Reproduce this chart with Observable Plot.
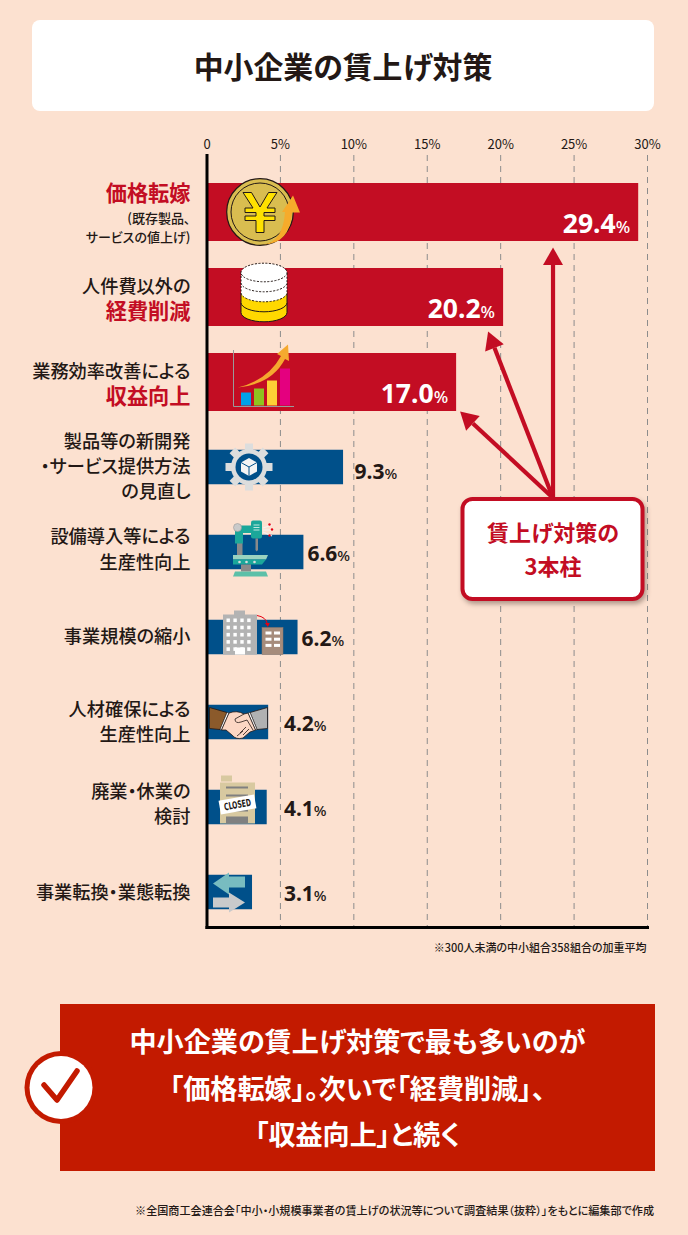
<!DOCTYPE html>
<html lang="ja">
<head>
<meta charset="utf-8">
<script src="https://cdn.jsdelivr.net/npm/d3@7"></script>
<script src="https://cdn.jsdelivr.net/npm/@observablehq/plot@0.6"></script>
<style>
  html,body{margin:0;padding:0;background:#fce1d0;}
  #page{position:relative;width:688px;height:1235px;overflow:hidden;background:#fce1d0;font-family:"Noto Sans CJK JP",sans-serif;color:#231815;font-feature-settings:"palt";}
  #page > div,#page > svg{position:absolute;}
  #title{left:32px;top:20px;width:622px;height:91px;background:#fff;border-radius:8px;text-align:center;line-height:91px;font-size:29.9px;font-weight:700;}
  #band{left:60px;top:1004px;width:595px;height:167px;background:#c31a00;color:#fff;text-align:center;font-size:27.1px;font-weight:700;}
  #band p{position:absolute;left:0;width:100%;margin:0;line-height:40px;}
  #check{left:22px;top:1050px;}
  #source{right:34px;top:1202px;font-size:11.1px;font-weight:500;white-space:nowrap;line-height:16px;}
</style>
</head>
<body>
<div id="page">
  <div id="title">中小企業の賃上げ対策</div>
  <div id="band">
    <p style="top:17px">中小企業の賃上げ対策で最も多いのが</p>
    <p style="top:64px">「価格転嫁」。次いで「経費削減」、</p>
    <p style="top:110px">「収益向上」と続く</p>
  </div>
  <svg id="check" width="76" height="76" viewBox="0 0 76 76">
    <circle cx="39" cy="37.5" r="36.5" fill="#c31a00"/>
    <circle cx="39" cy="37.5" r="31.5" fill="#fff"/>
    <path d="M22 35 L35 50 L55 21" fill="none" stroke="#c31a00" stroke-width="5.5" stroke-linecap="round" stroke-linejoin="round"/>
  </svg>
  <div id="source">※全国商工会連合会「中小・小規模事業者の賃上げの状況等について調査結果（抜粋）」をもとに編集部で作成</div>
</div>
<script>
// ---- chart data ----
const categories = [
  "価格転嫁\n(既存製品、\nサービスの値上げ)",
  "人件費以外の\n経費削減",
  "業務効率改善による\n収益向上",
  "製品等の新開発\n・サービス提供方法\nの見直し",
  "設備導入等による\n生産性向上",
  "事業規模の縮小",
  "人材確保による\n生産性向上",
  "廃業・休業の\n検討",
  "事業転換・業態転換"
];
const values = [29.4, 20.2, 17.0, 9.3, 6.6, 6.2, 4.2, 4.1, 3.1];
const pillarCount = 3;
const xTicks = [0, 5, 10, 15, 20, 25, 30];
const gridTicks = [5, 10, 15, 20, 25, 30];
const accentLines = ["価格転嫁", "経費削減", "収益向上"];
const smallLines = ["(既存製品、", "サービスの値上げ)"];
const calloutLines = ["賃上げ対策の", "3本柱"];
const footnote = "※300人未満の中小組合358組合の加重平均";

// ---- layout / style ----
const FONT = '"Noto Sans CJK JP",sans-serif';
const NUM = '"Noto Sans",sans-serif';
const RED = "#c30d23", BLUE = "#00508a", INK = "#231815";
const lineCenters = [[-18.5,6.5,25.5],[-10.8,15.2],[-10.8,15.2],[-25.8,-0.5,24.8],[-15.5,10.2],[-0.8],[-12.8,12.2],[-15,10],[0.5]];

const rows = categories.map((c, i) => ({cat: c, value: values[i], label: values[i].toFixed(1) + "%"}));
const pillars = rows.slice(0, pillarCount), others = rows.slice(pillarCount);

const labelMarks = categories.flatMap((c, i) => c.split("\n").map((line, k) => {
  const accent = accentLines.includes(line), small = smallLines.includes(line);
  return Plot.text([{cat: c, line}], {
    x: () => 0, y: "cat", text: "line", textAnchor: "end", dx: -16.5, dy: lineCenters[i][k],
    fontSize: accent ? 21.2 : small ? 13 : 18.2,
    fontWeight: accent ? 700 : 500,
    fill: accent ? RED : INK
  });
}));

function percentSmall(size) {
  return (index, scales, vals, dims, ctx, next) => {
    const g = next(index, scales, vals, dims, ctx);
    d3.select(g).selectAll("text").each(function () {
      const t = this.textContent.replace("%", "");
      d3.select(this).text(t).append("tspan").attr("font-size", size).attr("font-weight", 500).text("%");
    });
    return g;
  };
}

const valueText = (data, o) => Plot.text(data, {y: "cat", text: "label", fontFamily: NUM, fontWeight: 700, lineAnchor: "middle", ...o});

// ---- decorative icons, x in page px, y relative to the bar centre ----
const gearTeeth = d3.range(8).map(i => `<rect x="-4" y="-23.5" width="8" height="9" fill="#dcdddd" transform="translate(249,0) rotate(${i * 45})"/>`).join("");
function stackLayers() {
  let s = "";
  for (let k = 3; k >= 0; k--) {
    const y = -24.5 + k * 10, gold = k >= 2;
    s += `<path d="M241 ${y} V${y + 10} A23 9.3 0 0 0 287 ${y + 10} V${y} Z" fill="${gold ? "#ffd800" : "#fff"}" stroke="${INK}" stroke-width="1" ${gold ? "" : 'stroke-dasharray="2 1.5"'}/>`;
  }
  return s + `<ellipse cx="264" cy="-24.5" rx="23" ry="9.3" fill="#fff" stroke="${INK}" stroke-width="1" stroke-dasharray="2 1.5"/>`;
}
function grid(x0, y0, nx, ny, w, h, gx, gy, f) {
  let s = "";
  for (let j = 0; j < ny; j++) for (let i = 0; i < nx; i++)
    s += `<rect x="${x0 + i * (w + gx)}" y="${y0 + j * (h + gy)}" width="${w}" height="${h}" fill="${f}"/>`;
  return s;
}
const icons = [
  `<circle cx="260" cy="0" r="33.3" fill="#d9bd50" stroke="${INK}" stroke-width="1.2"/>
   <circle cx="260" cy="0" r="29" fill="none" stroke="${INK}" stroke-width="1"/>
   <path transform="translate(260,0)" d="M-17 -19.5H-8.5L0 -5 8.5 -19.5H17L7 -4H15V.5H4V4H15V8.5H4V20.5H-4V8.5H-15V4H-4V.5H-15V-4H-7Z" fill="#ffe100" stroke="${INK}" stroke-width="1"/>
   <path d="M263 32.5Q283 30 285 0L282 0 293 -16.5 300 .5 292 .5Q290 32 263 32.5Z" fill="#f6ab2b"/>`,
  stackLayers(),
  `<path d="M233.5 -32V24.5H294" fill="none" stroke="#9a9a9a" stroke-width="1"/>
   <rect x="241" y="10.5" width="10" height="13" fill="#00a0e9"/>
   <rect x="254" y="6.5" width="10" height="17" fill="#8fc31f"/>
   <rect x="267" y="-1.5" width="10" height="25" fill="#fdd035"/>
   <rect x="280" y="-13.5" width="10" height="37" fill="#e4007f"/>
   <path d="M238 5.5Q268 -2 281 -26L277 -28 288 -37.5 289 -21 285 -23Q272 2 238 5.5Z" fill="#f5a92f"/>`,
  `${gearTeeth}<circle cx="249" cy="0" r="18" fill="#dcdddd"/><circle cx="249" cy="0" r="13.5" fill="${BLUE}"/>
   <path d="M249 -9L257 -4.5V4.5L249 9 241 4.5V-4.5Z" fill="#f4f4f4"/>
   <path d="M241 -4.5L249 0 257 -4.5M249 0V9" fill="none" stroke="${BLUE}" stroke-width="1"/>`,
  `<path d="M263 -24L272 -27M263 -22H272M263 -20L272 -16" stroke="#f3f3f3" stroke-width="1.2"/>
   <circle cx="269.5" cy="-27.5" r="1.2" fill="#e60012"/><circle cx="272" cy="-22.5" r="1.2" fill="#e60012"/><circle cx="269.5" cy="-16.5" r="1.2" fill="#e60012"/>
   <rect x="237" y="-9" width="5.5" height="16" fill="#8a8a8a"/>
   <path d="M235 -26.5H252V-19H243V-8.5H235Z" fill="#1ba79a"/>
   <circle cx="237.5" cy="-24.5" r="4" fill="#c9caca" stroke="#999" stroke-width=".6"/>
   <rect x="251" y="-31.5" width="11" height="18" rx="2" fill="#1ba79a"/>
   <path d="M253.5 -27H259.5M253.5 -24.5H259.5M253.5 -22H259.5" stroke="#bfe8df" stroke-width="1"/>
   <path d="M255.5 -13.5H258V-2L256.7 -.5 255.5 -2Z" fill="#8a8a8a"/>
   <path d="M233 3H268L266 7.5H233Z" fill="#9ad2c0"/>
   <path d="M233 7.5H266L262 12.5H233Z" fill="#1ba79a"/>
   <circle cx="239.5" cy="10" r="1.3" fill="#dcdddd"/><circle cx="246.5" cy="10" r="1.3" fill="#dcdddd"/><circle cx="254.5" cy="10" r="1.3" fill="#dcdddd"/>
   <rect x="241" y="12.5" width="10" height="7" fill="#8a8a8a"/>
   <path d="M235 19.5H266L268 24.5H233Z" fill="#5cc0a8"/>`,
  `<rect x="234" y="-26.5" width="11" height="5" fill="#b3b3b3"/>
   <rect x="223" y="-22.5" width="34" height="40" fill="#b3b3b3"/>
   ${grid(226.5, -18.5, 4, 5, 3.4, 3.6, 3.5, 3.6, "#fff")}
   <rect x="235" y="10.5" width="10" height="7" fill="#fff"/>
   <rect x="262" y="-9.5" width="21" height="27" fill="#a68c7c" stroke="#8f7768" stroke-width=".5"/>
   ${grid(265.5, -5.5, 2, 3, 6, 3, 2.5, 3.2, "#fff")}
   <path d="M257 -21.5Q266 -20 267.5 -13" fill="none" stroke="#e60012" stroke-width="1"/>
   <path d="M265 -14L267.8 -10 269.8 -14Z" fill="#e60012"/>`,
  `<path d="M209.5 -14.5L227 -9.5 220 7.5 209.5 6.5Z" fill="#8b5a2b" stroke="${INK}" stroke-width=".8"/>
   <path d="M267.5 -14.5L250 -9.5 257 7.5 267.5 6.5Z" fill="#b0b1b2" stroke="${INK}" stroke-width=".8"/>
   <path d="M227 -9.5L229 -9 221.5 8 220 7.5ZM250 -9.5L248 -9 255.5 8 257 7.5Z" fill="#fff" stroke="${INK}" stroke-width=".5"/>
   <path d="M229 -9Q237 -12 244 -8L248 -9 255.5 8 250 10 243 16Q236 18 232 13L226 8 221.5 8Z" fill="#fcd7c4" stroke="${INK}" stroke-width=".8"/>
   <path d="M244 -8L235 -3Q235 2 241 0L247 -2 253 8M246 5L240 11M243 9L237 14M249 7L243 13" fill="none" stroke="${INK}" stroke-width=".8"/>`,
  `<rect x="221" y="-31.5" width="11" height="6" fill="#d8c9a0"/>
   <rect x="220" y="-24.5" width="35" height="41" fill="#d8c9a0"/>
   <path d="M226 -19.5H248M226 -11.5H248M226 3.5H248" stroke="#808080" stroke-width="2.2"/>
   <rect x="226" y="9.5" width="22" height="7" fill="#808080"/>
   <g transform="translate(237.5,-2.5) rotate(-10)"><rect x="-18" y="-7" width="36" height="14" fill="#fff"/>
   <text text-anchor="middle" y="3.6" font-size="10" font-weight="700" textLength="27" lengthAdjust="spacingAndGlyphs" font-family="'Liberation Sans Narrow','DejaVu Sans',sans-serif" fill="${INK}">CLOSED</text></g>`,
  `<path d="M213 -8.5L229 -19.5V-15.5H245V-4.5H229V2.5Z" fill="#78bcc0"/>
   <path d="M213 5.5H229V.5L245 10.5 229 20.5V15.5H213Z" fill="#c9cacb"/>`
];

function decorations(index, scales) {
  const g = document.createElementNS("http://www.w3.org/2000/svg", "g");
  const zero = scales.x(0) - 206.5, bw = scales.y.bandwidth() / 2;
  g.innerHTML = categories.map((c, i) => `<g transform="translate(${zero},${scales.y(c) + bw})">${icons[i]}</g>`).join("");
  return g;
}

function callout(index, scales) {
  const g = document.createElementNS("http://www.w3.org/2000/svg", "g");
  const bw = scales.y.bandwidth();
  const bottom = i => scales.y(categories[i]) + bw;
  const ox = scales.x(23.6), oy = 378;
  const tips = [
    [scales.x(23.6), bottom(0) + 6.5],
    [scales.x(values[1]) - 15, bottom(1) + 5.5],
    [scales.x(values[2]) + 4, bottom(2) + 0.5]
  ];
  const arrows = tips.map(([tx, ty]) => {
    const a = Math.atan2(ty - oy, tx - ox), h = 17.5, w = 10;
    const bx = tx - h * Math.cos(a), by = ty - h * Math.sin(a), nx = -Math.sin(a) * w, ny = Math.cos(a) * w;
    return `<line x1="${ox}" y1="${oy}" x2="${bx}" y2="${by}" stroke="${RED}" stroke-width="4.2"/>
      <polygon points="${tx},${ty} ${bx + nx},${by + ny} ${bx - nx},${by - ny}" fill="${RED}"/>`;
  }).join("");
  g.innerHTML = arrows + `
    <rect x="462.5" y="379" width="180" height="100" rx="10" fill="#fff" stroke="${RED}" stroke-width="4" style="filter:drop-shadow(2px 3px 2.5px rgba(80,60,50,.45))"/>
    <text x="553" y="415" text-anchor="middle" dominant-baseline="middle" font-size="22" font-weight="700" fill="${RED}">${calloutLines[0]}</text>
    <text x="553" y="449" text-anchor="middle" dominant-baseline="middle" font-size="22" font-weight="700" fill="${RED}">${calloutLines[1]}</text>`;
  return g;
}

const chart = Plot.plot({
  width: 688, height: 850,
  marginLeft: 206.5, marginRight: 41, marginTop: 35, marginBottom: 43,
  style: {background: "transparent", fontFamily: FONT, overflow: "visible", color: INK},
  x: {domain: [0, 30], label: null},
  y: {domain: categories, range: [50, 815], paddingInner: 0.312, paddingOuter: 0.156, axis: null},
  marks: [
    Plot.ruleX(gridTicks, {stroke: "#8c8c8c", strokeDasharray: "6,5", strokeWidth: 1}),
    Plot.barX(pillars, {x: "value", y: "cat", fill: RED}),
    Plot.barX(others, {x: "value", y: "cat", fill: BLUE, insetTop: 11.75, insetBottom: 11.75}),
    decorations,
    Plot.frame({anchor: "left", stroke: "#000", strokeWidth: 3}),
    Plot.frame({anchor: "bottom", stroke: "#000", strokeWidth: 3}),
    Plot.axisX(xTicks, {anchor: "top", tickSize: 0, tickPadding: 7, fontSize: 13, fontWeight: 400, fill: INK, label: null,
      tickFormat: d => d === 0 ? "0" : d + "%"}),
    ...labelMarks,
    valueText(pillars, {x: "value", textAnchor: "end", dx: -8.5, dy: 12.5, fontSize: 26.5, fill: "#fff", render: percentSmall(17)}),
    valueText(others.slice(0, 1), {x: "value", textAnchor: "start", dx: 11, dy: 5, fontSize: 21, fill: INK, render: percentSmall(15)}),
    valueText(others.slice(1), {x: d => Math.max(d.value, 5), textAnchor: "start", dx: 3.5, dy: 2, fontSize: 21, fill: INK, render: percentSmall(15)}),
    callout,
    Plot.text([footnote], {frameAnchor: "bottom-right", text: d => d, dx: -1, dy: 24, fontSize: 11, fontWeight: 500, fill: INK})
  ]
});
chart.style.left = "0"; chart.style.top = "120px"; chart.style.maxWidth = "none";
document.getElementById("page").appendChild(chart);
</script>
</body>
</html>
